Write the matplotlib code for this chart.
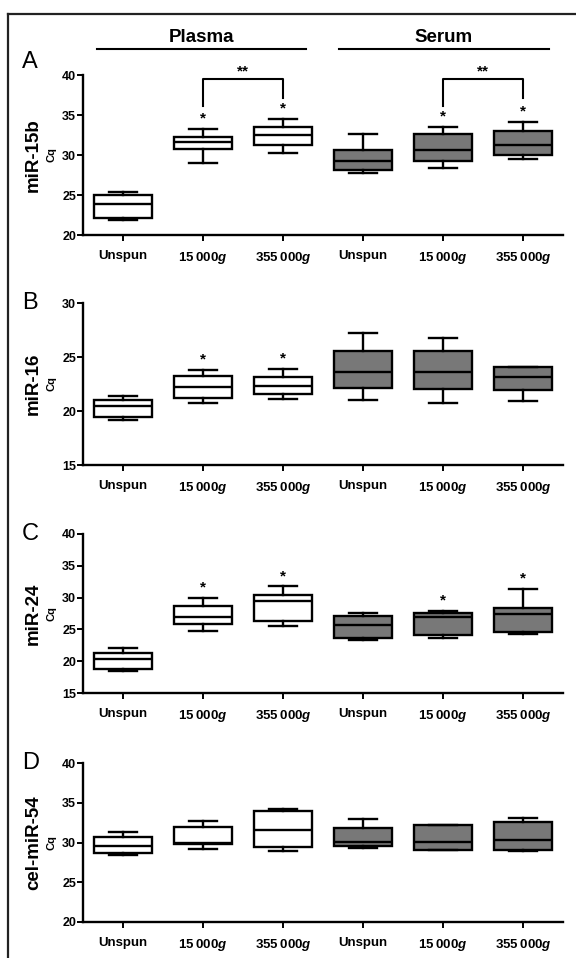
import matplotlib
matplotlib.use("Agg")
import matplotlib.pyplot as plt
from matplotlib.lines import Line2D

plt.rcParams['font.family'] = ['Liberation Sans', 'DejaVu Sans']
plt.rcParams['font.weight'] = 'bold'
plt.rcParams['mathtext.fontset'] = 'custom'
plt.rcParams['mathtext.it'] = 'Liberation Sans:italic:bold'
plt.rcParams['mathtext.rm'] = 'Liberation Sans:bold'

categories = ["Unspun", "15\u2009000$\\mathit{g}$", "355\u2009000$\\mathit{g}$",
              "Unspun", "15\u2009000$\\mathit{g}$", "355\u2009000$\\mathit{g}$"]
groups = ["Plasma", "Serum"]
panel_letters = ["A", "B", "C", "D"]
panel_names = ["miR-15b", "miR-16", "miR-24", "cel-miR-54"]
ylims = [(20, 40), (15, 30), (15, 40), (20, 40)]
yticks = [[20, 25, 30, 35, 40], [15, 20, 25, 30], [15, 20, 25, 30, 35, 40], [20, 25, 30, 35, 40]]

# box stats per panel: min, q1, median, q3, max for the 6 groups
mir15b_min = [21.9, 29.0, 30.2, 27.7, 28.4, 29.5]
mir15b_q1 = [22.1, 30.75, 31.3, 28.1, 29.2, 30.0]
mir15b_med = [23.9, 31.6, 32.5, 29.3, 30.6, 31.2]
mir15b_q3 = [25.0, 32.3, 33.5, 30.6, 32.6, 33.0]
mir15b_max = [25.4, 33.3, 34.5, 32.6, 33.5, 34.1]

mir16_min = [19.14, 20.77, 21.08, 20.99, 20.77, 20.93]
mir16_q1 = [19.44, 21.17, 21.54, 22.16, 22.0, 21.94]
mir16_med = [20.46, 22.25, 22.31, 23.64, 23.61, 23.18]
mir16_q3 = [20.99, 23.24, 23.18, 25.56, 25.56, 24.07]
mir16_max = [21.39, 23.77, 23.92, 27.25, 26.73, 24.1]

mir24_min = [18.43, 24.69, 25.58, 23.4, 23.66, 24.29]
mir24_q1 = [18.8, 25.89, 26.26, 23.66, 24.08, 24.6]
mir24_med = [20.42, 26.88, 29.4, 25.76, 26.9, 27.4]
mir24_q3 = [21.31, 28.72, 30.34, 27.15, 27.57, 28.36]
mir24_max = [22.09, 29.9, 31.75, 27.57, 27.93, 31.4]

cel54_min = [28.46, 29.17, 28.88, 29.29, 29.0, 28.88]
cel54_q1 = [28.67, 29.79, 29.42, 29.58, 29.08, 29.08]
cel54_med = [29.58, 30.0, 31.58, 30.12, 30.04, 30.33]
cel54_q3 = [30.67, 31.92, 33.96, 31.88, 32.21, 32.62]
cel54_max = [31.38, 32.71, 34.17, 32.92, 32.25, 33.04]

panel_stats = [
    (mir15b_min, mir15b_q1, mir15b_med, mir15b_q3, mir15b_max),
    (mir16_min, mir16_q1, mir16_med, mir16_q3, mir16_max),
    (mir24_min, mir24_q1, mir24_med, mir24_q3, mir24_max),
    (cel54_min, cel54_q1, cel54_med, cel54_q3, cel54_max),
]
# significance stars (1 = star above box)
stars = [[0, 1, 1, 0, 1, 1], [0, 1, 1, 0, 0, 0], [0, 1, 1, 0, 1, 1], [0, 0, 0, 0, 0, 0]]
face_colors = ["white", "white", "white", "#787878", "#787878", "#787878"]

W, H = 576, 958
fig = plt.figure(figsize=(W / 100, H / 100), dpi=100)

# figure frame (top and left edges visible)
fig.add_artist(Line2D([8 / W, 8 / W], [0, 1 - 13.5 / H], transform=fig.transFigure, color="#222222", lw=1.6))
fig.add_artist(Line2D([8 / W, 1], [1 - 13.5 / H, 1 - 13.5 / H], transform=fig.transFigure, color="#222222", lw=1.6))

axes_px = [(75, 235), (303, 465), (534, 693), (763, 922)]
left_px, right_px = 83, 563
positions = [1, 2, 3, 4, 5, 6]

for i, (top, bot) in enumerate(axes_px):
    ax = fig.add_axes([left_px / W, 1 - bot / H, (right_px - left_px) / W, (bot - top) / H])
    mn, q1, md, q3, mx = panel_stats[i]
    bstats = []
    for j in range(6):
        bstats.append(dict(whislo=mn[j], q1=q1[j], med=md[j], q3=q3[j], whishi=mx[j], fliers=[]))
    arts = ax.bxp(bstats, positions=positions, widths=0.73, patch_artist=True, showfliers=False,
                  boxprops=dict(linewidth=1.7, edgecolor="black"),
                  medianprops=dict(color="black", linewidth=1.7),
                  whiskerprops=dict(color="black", linewidth=1.7),
                  capprops=dict(color="black", linewidth=1.7),
                  capwidths=0.35)
    for patch, fc in zip(arts['boxes'], face_colors):
        patch.set_facecolor(fc)
    ax.set_xlim(0.5, 6.5)
    ax.set_ylim(*ylims[i])
    ax.set_yticks(yticks[i])
    ax.set_xticks(positions)
    ax.set_xticklabels(categories, fontsize=9.5, fontweight="bold")
    for s in ["top", "right"]:
        ax.spines[s].set_visible(False)
    for s in ["left", "bottom"]:
        ax.spines[s].set_linewidth(1.7)
    ax.tick_params(axis="y", direction="out", length=4.5, width=1.4, labelsize=9, pad=0.5)
    ax.tick_params(axis="x", direction="out", length=4.5, width=1.4, pad=6)
    for lab in ax.get_yticklabels():
        lab.set_fontweight("bold")
    ax.patch.set_alpha(0)

    # stars
    for j in range(6):
        if stars[i][j]:
            ax.annotate("*", (positions[j], mx[j]), xytext=(0, 2.5), textcoords="offset points",
                        ha="center", va="bottom", fontsize=11, fontweight="bold", annotation_clip=False)

    # labels
    ax.text(-0.0646, 0.5, "Cq", transform=ax.transAxes, rotation=90, ha="center", va="center",
            fontsize=8, fontweight="bold")
    ax.text(-0.103, 0.5, panel_names[i], transform=ax.transAxes, rotation=90, ha="center", va="center",
            fontsize=13.5, fontweight="bold")
    ax.text(-0.11, 1.08 if i == 0 else 1.0, panel_letters[i], transform=ax.transAxes, ha="center",
            va="center", fontsize=17, fontweight="normal")

    if i == 0:
        # brackets
        for (xa, xb) in [(2, 3), (5, 6)]:
            ax.plot([xa, xa, xb, xb], [36.1, 39.5, 39.5, 37.1], color="black", lw=1.5, clip_on=False)
            ax.text((xa + xb) / 2, 39.6, "**", ha="center", va="bottom", fontsize=11, fontweight="bold")
        # group headers
        for (x0, x1, name) in [(0.67, 3.29, groups[0]), (3.7, 6.32, groups[1])]:
            ax.plot([x0, x1], [43.25, 43.25], color="black", lw=1.5, clip_on=False)
            ax.text((x0 + x1) / 2, 43.6, name, ha="center", va="bottom", fontsize=13.5, fontweight="bold")

fig.savefig("out.png", dpi=100)
